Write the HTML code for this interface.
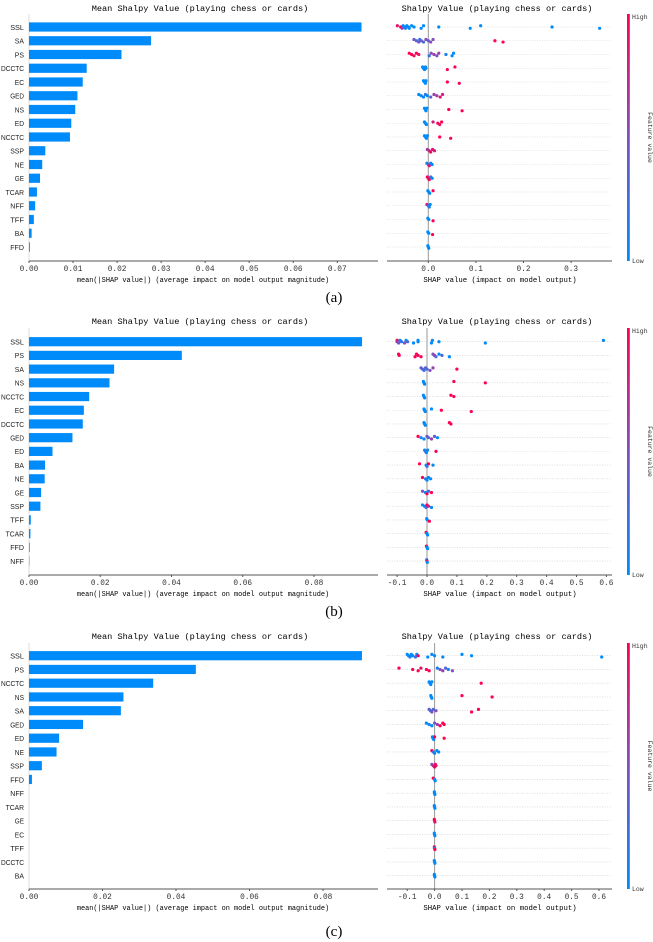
<!DOCTYPE html>
<html><head><meta charset="utf-8"><style>
html,body{margin:0;padding:0;background:#fff;}
svg{display:block;font-family:"Liberation Mono","Noto Sans CJK SC",monospace;}
</style></head><body>
<svg id="fig" width="653" height="942" viewBox="0 0 653 942" xmlns="http://www.w3.org/2000/svg">
<defs><linearGradient id="cb" x1="0" y1="1" x2="0" y2="0"><stop offset="0" stop-color="#008bfb"/><stop offset="0.5" stop-color="#8050c0"/><stop offset="1" stop-color="#ff0052"/></linearGradient></defs>
</svg>
<script>
// ---------- DATA ----------
const featuresA = ["SSL","SA","PS","DCCTC","EC","GED","NS","ED","NCCTC","SSP","NE","GE","TCAR","NFF","TFF","BA","FFD"];
const meanA = [0.0755,0.0277,0.0210,0.0131,0.0122,0.0110,0.0105,0.0096,0.0093,0.0037,0.0030,0.0025,0.0018,0.0014,0.0011,0.0006,0.0002];
const ticksLeftA = [0,0.01,0.02,0.03,0.04,0.05,0.06,0.07];
const tickLabelsLeftA = ["0.00","0.01","0.02","0.03","0.04","0.05","0.06","0.07"];
const ticksRightA = [0,0.1,0.2,0.3];
const tickLabelsRightA = ["0.0","0.1","0.2","0.3"];
// dots: [shap value, feature value 0..1]
const dotsA = [
 [[-0.065,0.9],[-0.058,1],[-0.055,0.6],[-0.053,0],[-0.05,0],[-0.048,0.1],[-0.045,0],[-0.042,0],[-0.04,0],[-0.035,0],[-0.03,0],[-0.015,0],[-0.01,0],[0.022,0],[0.088,0],[0.11,0],[0.26,0],[0.36,0]],
 [[-0.03,0.4],[-0.025,0.3],[-0.02,0.5],[-0.018,0.2],[-0.015,0.4],[-0.01,0.3],[-0.005,0.5],[0,0.4],[0.005,0.5],[0.01,0.5],[0.14,1],[0.157,1]],
 [[-0.04,1],[-0.035,1],[-0.03,0.9],[-0.025,1],[-0.02,0.9],[0.002,0.2],[0.006,0.5],[0.012,0.6],[0.018,0.5],[0.022,0.6],[0.037,0.1],[0.05,0],[0.053,0]],
 [[-0.012,0],[-0.01,0],[-0.008,0],[-0.006,0],[-0.005,0],[0.04,1],[0.056,1]],
 [[-0.01,0],[-0.008,0],[-0.006,0],[-0.005,0],[0.04,1],[0.065,1]],
 [[-0.02,0],[-0.015,0.1],[-0.01,0],[-0.006,0.2],[-0.002,0],[0.005,0.4],[0.012,0.6],[0.018,0.6],[0.025,0.9],[0.03,0.8]],
 [[-0.008,0],[-0.006,0],[-0.005,0],[-0.003,0],[0.043,1],[0.071,1]],
 [[-0.008,0],[-0.006,0],[-0.004,0],[0.01,0.8],[0.02,1],[0.024,0.9],[0.028,1]],
 [[-0.008,0],[-0.006,0],[-0.004,0],[-0.002,0],[0.024,1],[0.047,1]],
 [[-0.002,0.6],[0.002,0.8],[0.005,0.9],[0.009,0.9],[0.013,0.8]],
 [[-0.003,0.1],[0,0.3],[0.002,0.9],[0.005,0.1],[0.008,0]],
 [[-0.002,1],[0,0.9],[0.002,1],[0.005,0.2],[0.008,0]],
 [[-0.001,0],[0.001,0],[0.003,0],[0.01,1]],
 [[-0.003,0.8],[0,0.2],[0.002,0.1],[0.004,0]],
 [[-0.001,0],[0.001,0],[0.01,1]],
 [[-0.001,0],[0.001,0],[0.009,1]],
 [[-0.001,0],[0,0],[0.001,0]]
];

const featuresB = ["SSL","PS","SA","NS","NCCTC","EC","DCCTC","GED","ED","BA","NE","GE","SSP","TFF","TCAR","FFD","NFF"];
const meanB = [0.0935,0.0429,0.0239,0.0226,0.0169,0.0154,0.0151,0.0122,0.0066,0.0045,0.0044,0.0034,0.0032,0.0005,0.0004,0.0002,0.0001];
const ticksLeftB = [0,0.02,0.04,0.06,0.08];
const tickLabelsLeftB = ["0.00","0.02","0.04","0.06","0.08"];
const ticksRightB = [-0.1,0,0.1,0.2,0.3,0.4,0.5,0.6];
const tickLabelsRightB = ["-0.1","0.0","0.1","0.2","0.3","0.4","0.5","0.6"];
const dotsB = [
 [[-0.1,1],[-0.1,0.7],[-0.095,0.4],[-0.09,0],[-0.085,0.2],[-0.075,0.5],[-0.07,0],[-0.065,0.3],[-0.045,0],[-0.03,0],[-0.03,0],[0.015,0],[0.018,0],[0.04,0],[0.195,0],[0.59,0]],
 [[-0.095,1],[-0.093,1],[-0.04,1],[-0.035,1],[-0.03,0.9],[-0.02,1],[0.02,0.5],[0.025,0.6],[0.03,0.3],[0.04,0],[0.05,0.3],[0.075,0]],
 [[-0.02,0.3],[-0.015,0.4],[-0.01,0.2],[-0.005,0.4],[0,0.3],[0.01,0.5],[0.02,0.6],[0.1,1]],
 [[-0.012,0],[-0.01,0],[-0.008,0],[0.09,1],[0.195,1]],
 [[-0.012,0],[-0.01,0],[-0.008,0],[0.08,1],[0.09,1]],
 [[-0.01,0],[-0.008,0],[-0.006,0],[0.015,0],[0.048,1],[0.148,1]],
 [[-0.01,0],[-0.008,0],[-0.006,0],[0.075,1],[0.08,1]],
 [[-0.03,1],[-0.02,0.1],[-0.01,0],[0,0.5],[0.005,0.3],[0.015,0.6],[0.025,0.4],[0.035,0]],
 [[-0.008,0],[-0.005,0.2],[-0.002,0],[0.002,0.1],[0.03,1]],
 [[-0.025,1],[-0.003,0],[0,0.2],[0.005,1],[0.02,0]],
 [[-0.015,1],[-0.005,0.1],[0,0],[0.005,0],[0.012,0]],
 [[-0.015,0.5],[-0.005,0],[0,1],[0.005,0.2],[0.015,1]],
 [[-0.015,0],[-0.008,0],[-0.003,0.3],[0,1],[0.005,0.8],[0.015,0]],
 [[-0.001,0],[0.001,0],[0.008,1]],
 [[-0.003,1],[0,0],[0.002,0]],
 [[-0.002,1],[0,0],[0.002,0]],
 [[-0.001,0],[0,1],[0.001,0]]
];

const featuresC = ["SSL","PS","NCCTC","NS","SA","GED","ED","NE","SSP","FFD","NFF","TCAR","GE","EC","TFF","DCCTC","BA"];
const meanC = [0.0906,0.0454,0.0338,0.0257,0.0250,0.0147,0.0082,0.0075,0.0035,0.0008,0,0,0,0,0,0,0];
const ticksLeftC = [0,0.02,0.04,0.06,0.08];
const tickLabelsLeftC = ["0.00","0.02","0.04","0.06","0.08"];
const ticksRightC = [-0.1,0,0.1,0.2,0.3,0.4,0.5,0.6];
const tickLabelsRightC = ["-0.1","0.0","0.1","0.2","0.3","0.4","0.5","0.6"];
const dotsC = [
 [[-0.1,0],[-0.095,0],[-0.09,0.1],[-0.085,0],[-0.08,0],[-0.07,0.2],[-0.065,0],[-0.06,1],[-0.025,0],[-0.01,0],[0,0],[0.03,0],[0.1,0],[0.135,0],[0.61,0]],
 [[-0.13,1],[-0.08,1],[-0.06,1],[-0.05,0.9],[-0.03,1],[-0.02,1],[0.01,0.1],[0.02,0.5],[0.03,0.6],[0.04,0.3],[0.05,0.1],[0.065,0.5]],
 [[-0.02,0],[-0.017,0],[-0.014,0],[-0.01,0],[0.17,1]],
 [[-0.014,0],[-0.012,0],[-0.01,0],[0.1,1],[0.21,1]],
 [[-0.02,0.4],[-0.015,0.2],[-0.01,0.5],[-0.005,0.3],[0.005,0.5],[0.135,1],[0.16,1]],
 [[-0.03,0],[-0.02,0.1],[-0.01,0],[0,0.4],[0.01,0.6],[0.02,1],[0.03,1],[0.035,1]],
 [[-0.008,0],[-0.006,0],[-0.003,0],[0,1],[0.035,1]],
 [[-0.01,1],[-0.005,0.3],[0,0],[0.008,0],[0.015,0]],
 [[-0.01,0.5],[-0.005,0.7],[0,1],[0.003,1],[0.005,0.9]],
 [[-0.005,1],[0,0],[0.002,0]],
 [[-0.001,0],[0,0],[0.001,0]],
 [[-0.001,0],[0,0.1],[0.001,0]],
 [[-0.001,1],[0,1],[0.001,0.9]],
 [[-0.001,0],[0,0],[0.001,0]],
 [[-0.001,1],[0,0],[0.001,1]],
 [[-0.001,0],[0,0],[0.001,0]],
 [[-0.001,0],[0,0],[0.001,0]]
];

// ---------- LAYOUT ----------
const panels = [
 {tag:"a",top:0,titleY:11,axisTop:14,row0:27,rowStep:13.75,axisBottom:261,lx0:29,lppu:4404,rx0:428.3,rppu:476,
  feats:featuresA,mean:meanA,lt:ticksLeftA,ltl:tickLabelsLeftA,rt:ticksRightA,rtl:tickLabelsRightA,dots:dotsA,capY:302},
 {tag:"b",top:305,titleY:324,axisTop:328,row0:341.7,rowStep:13.71,axisBottom:575,lx0:29,lppu:3562,rx0:427,rppu:299,
  feats:featuresB,mean:meanB,lt:ticksLeftB,ltl:tickLabelsLeftB,rt:ticksRightB,rtl:tickLabelsRightB,dots:dotsB,capY:616},
 {tag:"c",top:630,titleY:639,axisTop:643,row0:655.7,rowStep:13.75,axisBottom:889,lx0:29,lppu:3675,rx0:434.6,rppu:274,
  feats:featuresC,mean:meanC,lt:ticksLeftC,ltl:tickLabelsLeftC,rt:ticksRightC,rtl:tickLabelsRightC,dots:dotsC,capY:936}
];
const NS="http://www.w3.org/2000/svg";
const svg=document.getElementById("fig");
function mk(tag,attrs,parent,text){const e=document.createElementNS(NS,tag);for(const k in attrs)e.setAttribute(k,attrs[k]);if(text!==undefined)e.textContent=text;(parent||svg).appendChild(e);return e;}
function col(v){const a=[0,139,251],b=[128,80,192],c=[255,0,82];let p,q,t;if(v<0.5){p=a;q=b;t=v*2}else{p=b;q=c;t=(v-0.5)*2}
 return "rgb("+p.map((x,i)=>Math.round(x+(q[i]-x)*t)).join(",")+")";}

panels.forEach(P=>{
 const g=mk("g",{});
 
 
 const xL=v=>P.lx0+v*P.lppu;
 const xR=v=>P.rx0+v*P.rppu;
 const yRow=i=>P.row0+i*P.rowStep;
 const t1=mk("text",{x:200,y:P.titleY,"font-size":"8.6","text-anchor":"middle",fill:"#000"},g,"Mean Shalpy Value (playing chess or cards)");
 
 
 const la=mk("line",{x1:P.lx0,y1:P.axisTop,x2:P.lx0,y2:P.axisBottom,stroke:"#ddd","stroke-width":1},g);
 
 
 const lb=mk("line",{x1:P.lx0,y1:P.axisBottom,x2:378,y2:P.axisBottom,stroke:"#555","stroke-width":1},g);
 
 
 P.feats.forEach((f,i)=>{
  const lab=mk("text",{x:24,y:yRow(i)+2.8,"font-size":"7.6","text-anchor":"end",fill:"#222","font-family":"Liberation Sans Narrow, Liberation Sans, sans-serif"},g,f);
  
  
  const len=lab.getComputedTextLength();
  const maxW=f.length*4.6;
  if(len>maxW){lab.setAttribute('textLength',maxW);lab.setAttribute('lengthAdjust','spacingAndGlyphs');}
  const w=Math.max(P.mean[i]*P.lppu,0);
  if(w>0){const r=mk("rect",{x:P.lx0,y:yRow(i)-4.6,width:w,height:9.2,fill:"#008bfb"},g);
   
   }
 });
 P.lt.forEach((v,i)=>{
  mk("line",{x1:xL(v),y1:P.axisBottom,x2:xL(v),y2:P.axisBottom+2,stroke:"#555"},g);
  const tl=mk("text",{x:xL(v),y:P.axisBottom+10,"font-size":"7.8","text-anchor":"middle",fill:"#333"},g,P.ltl[i]);
  
  
 });
 const xl=mk("text",{x:203,y:P.axisBottom+21,"font-size":"6.9","text-anchor":"middle",fill:"#000"},g,"mean(|SHAP value|) (average impact on model output magnitude)");
 
 

 const t2=mk("text",{x:497,y:P.titleY,"font-size":"8.6","text-anchor":"middle",fill:"#000"},g,"Shalpy Value (playing chess or cards)");
 
 
 P.feats.forEach((f,i)=>{
  const gl=mk("line",{x1:387,y1:yRow(i),x2:612,y2:yRow(i),stroke:"#ccc","stroke-width":0.6,"stroke-dasharray":"1,1.5"},g);
  
  
 });
 const zl=mk("line",{x1:xR(0),y1:P.axisTop,x2:xR(0),y2:P.axisBottom,stroke:"#999","stroke-width":1},g);
 
 
 const rb=mk("line",{x1:387,y1:P.axisBottom,x2:612,y2:P.axisBottom,stroke:"#555"},g);
 
 
 P.rt.forEach((v,i)=>{
  mk("line",{x1:xR(v),y1:P.axisBottom,x2:xR(v),y2:P.axisBottom+2,stroke:"#555"},g);
  const tl=mk("text",{x:xR(v),y:P.axisBottom+10,"font-size":"7.8","text-anchor":"middle",fill:"#333"},g,P.rtl[i]);
  
  
 });
 const rx=mk("text",{x:500,y:P.axisBottom+21,"font-size":"7.3","text-anchor":"middle",fill:"#000"},g,"SHAP value (impact on model output)");
 
 
 P.dots.forEach((row,i)=>{
  row.forEach((d,j)=>{
   const off=((j%3)-1)*1.3;
   const c=mk("circle",{cx:xR(d[0]),cy:yRow(i)+off,r:1.6,fill:col(d[1])},g);
   
   
  });
 });
 const cb=mk("rect",{x:627,y:P.axisTop,width:2.8,height:P.axisBottom-P.axisTop,fill:"url(#cb)"},g);
 
 
 const hi=mk("text",{x:632,y:P.axisTop+5,"font-size":"6.5",fill:"#333"},g,"High");
 
 
 const lo=mk("text",{x:632,y:P.axisBottom+2,"font-size":"6.5",fill:"#333"},g,"Low");
 
 
 const cy=(P.axisTop+P.axisBottom)/2;
 const fv=mk("text",{x:648,y:cy,"font-size":"6.5","text-anchor":"middle",fill:"#333",transform:"rotate(90 648 "+cy+")"},g,"Feature value");
 
 
 const cap=mk("text",{x:334,y:P.capY,"font-size":"15","text-anchor":"middle",fill:"#000","font-family":"Liberation Serif, serif"},g,"("+P.tag+")");
 
 
});
</script>
</body></html>
